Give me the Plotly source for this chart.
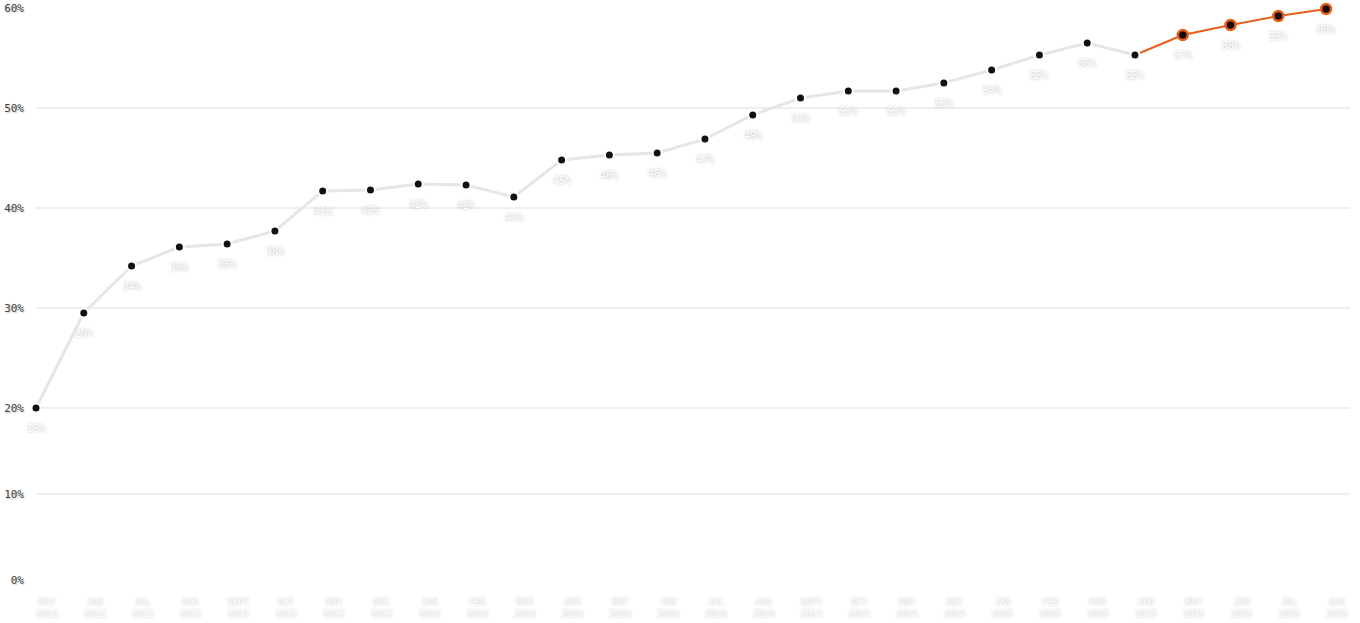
import plotly.graph_objects as go

months = ["MAY", "JUN", "JUL", "AUG", "SEPT", "OCT", "NOV", "DEC",
          "JAN", "FEB", "MAR", "APR", "MAY", "JUN", "JUL", "AUG", "SEPT", "OCT", "NOV", "DEC",
          "JAN", "FEB", "MAR", "APR", "MAY", "JUN", "JUL", "AUG"]
years = ["2023"] * 8 + ["2024"] * 12 + ["2025"] * 8
values = [20.0, 29.5, 34.2, 36.1, 36.4, 37.7, 41.7, 41.8,
          42.4, 42.3, 41.1, 44.8, 45.3, 45.5, 46.9, 49.3, 51.0, 51.7, 51.7, 52.5,
          53.8, 55.3, 56.5, 55.3, 57.3, 58.3, 59.2, 59.9]
labels = ["19%", "29%", "34%", "36%", "36%", "38%", "41%", "42%",
          "42%", "42%", "41%", "45%", "46%", "46%", "47%", "49%", "51%", "52%", "52%", "53%",
          "54%", "55%", "56%", "55%", "57%", "58%", "59%", "60%"]
highlight_start = 23  # APR 2025 onward drawn in orange
y_ticks = [0, 10, 20, 30, 40, 50, 60]


def scale(v):
    # the reference axis is compressed below 20%
    return 0.86 * v if v <= 20 else 17.2 + (v - 20)


x = list(range(len(values)))
ys = [scale(v) for v in values]
cat_text = [f"{m}<br>{y}" for m, y in zip(months, years)]

GRAY_LINE = "#e6e6e6"
ORANGE = "#e8601c"
FONT = "DejaVu Sans Mono, monospace"

fig = go.Figure()

fig.add_trace(go.Scatter(
    x=x[:highlight_start + 1], y=ys[:highlight_start + 1], mode="lines+markers",
    line=dict(color=GRAY_LINE, width=3),
    marker=dict(size=9, color="#111111", line=dict(color="white", width=2)),
    hoverinfo="skip", showlegend=False, cliponaxis=False,
))
fig.add_trace(go.Scatter(
    x=x[highlight_start:], y=ys[highlight_start:], mode="lines",
    line=dict(color=ORANGE, width=2),
    hoverinfo="skip", showlegend=False, cliponaxis=False,
))
fig.add_trace(go.Scatter(
    x=x[highlight_start + 1:], y=ys[highlight_start + 1:], mode="markers",
    marker=dict(size=10, color="#1a0a04", line=dict(color=ORANGE, width=2.5)),
    hoverinfo="skip", showlegend=False, cliponaxis=False,
))
# redraw the APR 2025 point on top of the orange line start
fig.add_trace(go.Scatter(
    x=[x[highlight_start]], y=[ys[highlight_start]], mode="markers",
    marker=dict(size=9, color="#111111", line=dict(color="white", width=2)),
    hoverinfo="skip", showlegend=False, cliponaxis=False,
))

for xi, yi, lab in zip(x, ys, labels):
    fig.add_annotation(
        x=xi, y=yi, text=lab, showarrow=False, yshift=-20,
        font=dict(family=FONT, size=10, color="#ffffff",
                  shadow="0px 0px 3px rgba(0,0,0,0.35)"),
    )

fig.update_layout(
    template="none",
    width=1360, height=623,
    margin=dict(l=36, r=10, t=8, b=43, autoexpand=False),
    paper_bgcolor="white", plot_bgcolor="white",
    xaxis=dict(
        range=[0, 27.5], tickmode="array", tickvals=x, ticktext=cat_text,
        showgrid=False, zeroline=False, showline=False, ticks="",
        automargin=False,
        tickfont=dict(family=FONT, size=9, color="#ffffff",
                      shadow="0px 0px 3px rgba(0,0,0,0.3)"),
        ticklabelshift=11, ticklabelstandoff=15,
    ),
    yaxis=dict(
        range=[0, scale(60)], tickmode="array",
        tickvals=[scale(v) for v in y_ticks], ticktext=[f"{v}%" for v in y_ticks],
        showgrid=True, gridcolor="#efefef", gridwidth=2,
        zeroline=False, showline=False, ticks="",
        automargin=False,
        tickfont=dict(family=FONT, size=11, color="#444444",
                      shadow="1px 1px 2px rgba(0,0,0,0.25)"),
        ticklabelstandoff=11,
    ),
)

fig.write_html("out.html", config={"displayModeBar": False},
               post_script="document.body.style.margin='0';")
